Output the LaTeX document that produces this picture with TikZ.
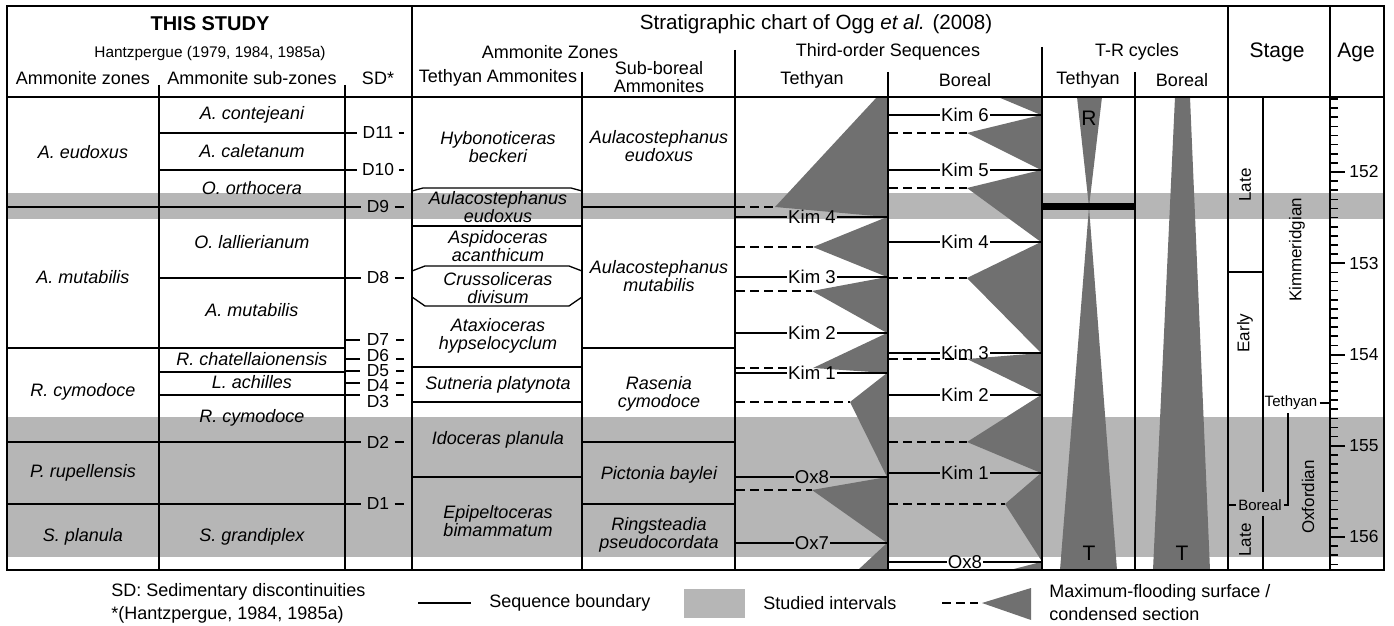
\documentclass[tikz,border=0pt]{standalone}
\usepackage{fontspec}
\setmainfont{Liberation Sans}
\usetikzlibrary{positioning,calc}

\definecolor{bandgrey}{RGB}{182,182,182}
\definecolor{mfsgrey}{RGB}{112,112,112}

\begin{document}
\begin{tikzpicture}[x=0.5pt,y=-0.5pt,
    zone/.style={font=\fontsize{9}{9.2}\selectfont\itshape, align=center, inner sep=0pt},
    head/.style={font=\fontsize{9}{9.2}\selectfont, align=center, inner sep=0pt},
    sdmark/.style={font=\fontsize{8.7}{8.5}\selectfont, inner xsep=2.5pt, inner ysep=0pt},
    seqmark/.style={font=\fontsize{9.3}{9}\selectfont, inner xsep=0.5pt, inner ysep=0pt},
    stagemark/.style={font=\fontsize{8.5}{8.5}\selectfont, rotate=90, inner sep=0pt},
    agemark/.style={font=\fontsize{8.7}{8.7}\selectfont, anchor=west, inner sep=0pt},
    keytext/.style={font=\fontsize{9}{11.5}\selectfont, anchor=west, align=left, inner sep=0pt},
    colline/.style={line width=1pt},
    zoneline/.style={line width=0.65pt},
    seqbound/.style={line width=1pt},
    mfsline/.style={line width=0.7pt, dash pattern=on 4.5pt off 2.5pt},
    mfs/.style={fill=mfsgrey}
]
\useasboundingbox (0,0) rectangle (1394,626);

% studied intervals
\fill[bandgrey] (7,193) rectangle (1384,219);
\fill[bandgrey] (7,417) rectangle (1384,557);

% wedges, Tethyan third-order sequences
\fill[mfs] (877,97) -- (887,97) -- (887,217) -- (775,207) -- cycle;
\fill[mfs] (887,217) -- (813,247) -- (887,277) -- cycle;
\fill[mfs] (887,277) -- (812,291) -- (887,333) -- cycle;
\fill[mfs] (887,333) -- (813,368) -- (887,373) -- cycle;
\fill[mfs] (887,373) -- (850,402) -- (887,477) -- cycle;
\fill[mfs] (887,477) -- (812,490) -- (887,543) -- cycle;
\fill[mfs] (887,543) -- (858,570) -- (887,570) -- cycle;
% wedges, Boreal third-order sequences
\fill[mfs] (998,97) -- (1041,97) -- (1041,115) -- cycle;
\fill[mfs] (1041,115) -- (967,133) -- (1041,170) -- cycle;
\fill[mfs] (1041,170) -- (967,188) -- (1041,242) -- cycle;
\fill[mfs] (1041,242) -- (967,278) -- (1041,353) -- cycle;
\fill[mfs] (1041,353) -- (967,359) -- (1041,395) -- cycle;
\fill[mfs] (1041,395) -- (967,442) -- (1041,473) -- cycle;
\fill[mfs] (1041,473) -- (1005,504) -- (1041,560) -- cycle;
\fill[mfs] (1041,562) -- (1010,570) -- (1041,570) -- cycle;
% T-R cycles
\fill[mfs] (1077,97) -- (1102,97) -- (1089,207) -- cycle;
\fill[mfs] (1089,207) -- (1117,570) -- (1060,570) -- cycle;
\fill[mfs] (1175,97) -- (1190,97) -- (1210,570) -- (1153,570) -- cycle;

% frame and columns
\draw[colline] (7,97) -- (1384,97);
\foreach \x/\ytop in {159/85, 345/85, 412/6, 582/72, 735/50, 888/72, 1042/47, 1135/72, 1228/6, 1330/6}
    \draw[colline] (\x,\ytop) -- (\x,570);
\draw[line width=1.4pt] (7,6) rectangle (1384,570);

% this study: zones, sub-zones, discontinuities
\foreach \y in {207,348,442,504}
    \draw[zoneline] (7,\y) -- (159,\y);
\foreach \y in {133,170,207,278,348,372,395,442,504}
    \draw[zoneline] (159,\y) -- (345,\y);
\foreach \y/\n/\t in {133/d11/D11, 170/d10/D10, 207/d9/D9, 278/d8/D8, 442/d2/D2, 504/d1/D1} {
    \node[sdmark] (\n) at (378,\y) {\t};
    \draw[zoneline] (345,\y) -- (\n.west) (\n.east) -- (404,\y);
}
\foreach \yl/\yt/\n/\t in {340/340/d7/D7, 356/359/d6/D6, 371/371/d5/D5, 386/383/d4/D4, 402/395/d3/D3} {
    \node[sdmark] (\n) at (378,\yl) {\t};
    \draw[zoneline] (346,\yt) -- (360,\yt) (396,\yt) -- (404,\yt);
}

% Ogg et al.: ammonite zones
\draw[zoneline] (412,191) -- (423,188) -- (571,188) -- (582,191);
\draw[zoneline] (412,226) -- (582,226);
\draw[zoneline] (412,271) -- (425,266) -- (569,266) -- (582,271);
\draw[zoneline] (412,297) -- (425,306) -- (569,306) -- (582,297);
\foreach \y in {367,402,477}
    \draw[zoneline] (412,\y) -- (582,\y);
\foreach \y in {207,348,442,504}
    \draw[zoneline] (582,\y) -- (735,\y);

% sequence boundaries and flooding surfaces
\foreach \y/\n/\t in {217/tk4/Kim 4, 277/tk3/Kim 3, 333/tk2/Kim 2, 373/tk1/Kim 1, 477/tox8/Ox8, 543/tox7/Ox7} {
    \node[seqmark] (\n) at (812,\y) {\t};
    \draw[seqbound] (736,\y) -- (\n.west) (\n.east) -- (887,\y);
}
\foreach \y/\n/\t in {115/bk6/Kim 6, 170/bk5/Kim 5, 242/bk4/Kim 4, 353/bk3/Kim 3, 395/bk2/Kim 2, 473/bk1/Kim 1, 562/box8/Ox8} {
    \node[seqmark] (\n) at (965,\y) {\t};
    \draw[seqbound] (889,\y) -- (\n.west) (\n.east) -- (1041,\y);
}
\foreach \y/\x in {207/775, 247/813, 291/812, 368/789, 402/850, 490/812}
    \draw[mfsline] (736,\y) -- (\x,\y);
\foreach \y/\x in {133/967, 188/967, 278/967, 359/967, 442/967, 504/1005}
    \draw[mfsline] (889,\y) -- (\x,\y);

% T-R cycles
\draw[line width=3.5pt] (1042,207) -- (1135,207);
\node[font=\fontsize{10.5}{10.5}\selectfont] (regr) at (1089,118) {R};
\node[font=\fontsize{10.5}{10.5}\selectfont] (transt) at (1089,553) {T};
\node[font=\fontsize{10.5}{10.5}\selectfont] (transb) at (1182,553) {T};

% stages
\draw[colline] (1263,97) -- (1263,492) (1263,516) -- (1263,570);
\draw[zoneline] (1228,272) -- (1263,272);
\node[stagemark] (latek) at (1245,185) {Late};
\node[stagemark] (earlyk) at (1245,333) {Early};
\node[stagemark] (lateo) at (1245,540) {Late};
\node[stagemark] (kimm) at (1297,250) {Kimmeridgian};
\node[stagemark] (oxf) at (1308,497) {Oxfordian};
\node[font=\fontsize{7.5}{7.5}\selectfont, inner xsep=1pt, inner ysep=0pt] (teth) at (1291,403) {Tethyan};
\node[font=\fontsize{7.5}{7.5}\selectfont, inner xsep=1pt, inner ysep=0pt] (bor) at (1260,505) {Boreal};
\draw[zoneline] (teth.east) -- (1330,403);
\draw[zoneline] (1288,413) -- (1288,505) -- (bor.east);
\draw[zoneline] (1228,505) -- (bor.west);

% age scale
\foreach \i in {-8,...,43}
    \draw[line width=0.8pt] (1331,{172+9.125*\i}) -- ++(7,0);
\foreach \a [count=\k from 0] in {152,...,156} {
    \draw[line width=1pt] (1331,{172+91.25*\k}) -- ++(14,0);
    \node[agemark] (age\a) at (1349,{172+91.25*\k}) {\a};
}

% header
\node[font=\fontsize{10}{10}\selectfont\bfseries] (study) at (210,24) {THIS STUDY};
\node[font=\fontsize{7.7}{7.7}\selectfont] (hantz) at (210,54) {Hantzpergue (1979, 1984, 1985a)};
\node[head] (hzone) at (83,78) {Ammonite zones};
\node[head] (hsub) at (252,78) {Ammonite sub-zones};
\node[head] (hsd) at (378,78) {SD*};
\node[font=\fontsize{10.3}{10.3}\selectfont] (ogg) at (816,24) {Stratigraphic chart of Ogg \textit{et al.} (2008)};
\node[head] (hamm) at (550,52) {Ammonite Zones};
\node[head] (hseq) at (888,52) {Third-order Sequences};
\node[head] (htr) at (1137,52) {T-R cycles};
\node[font=\fontsize{10.5}{10.5}\selectfont] (hstage) at (1277,52) {Stage};
\node[font=\fontsize{10.5}{10.5}\selectfont] (hage) at (1356,52) {Age};
\node[head] (htamm) at (498,78) {Tethyan Ammonites};
\node[head] (hbamm) at (659,77) {Sub-boreal\\Ammonites};
\node[head] (htseq) at (812,80) {Tethyan};
\node[head] (hbseq) at (965,80) {Boreal};
\node[head] (httr) at (1088,80) {Tethyan};
\node[head] (hbtr) at (1182,80) {Boreal};

% zone names
\foreach \y/\n/\t in {152/az1/A. eudoxus, 277/az2/A. mutabilis, 392/az3/R. cymodoce, 473/az4/P. rupellensis, 537/az5/S. planula}
    \node[zone] (\n) at (83,\y) {\t};
\foreach \y/\n/\t in {115/sz1/A. contejeani, 151/sz2/A. caletanum, 188/sz3/O. orthocera, 242/sz4/O. lallierianum, 310/sz5/A. mutabilis, 359/sz6/R. chatellaionensis, 382/sz7/L. achilles, 418/sz8/R. cymodoce, 537/sz9/S. grandiplex}
    \node[zone] (\n) at (252,\y) {\t};
\foreach \y/\n/\t in {147/tz1/Hybonoticeras\\beckeri, 207/tz2/Aulacostephanus\\eudoxus, 246/tz3/Aspidoceras\\acanthicum, 288/tz4/Crussoliceras\\divisum, 336/tz5/Ataxioceras\\hypselocyclum, 385/tz6/Sutneria platynota, 440/tz7/Idoceras planula, 521/tz8/Epipeltoceras\\bimammatum}
    \node[zone] (\n) at (498,\y) {\t};
\foreach \y/\n/\t in {146/bz1/Aulacostephanus\\eudoxus, 276/bz2/Aulacostephanus\\mutabilis, 394/bz3/Rasenia\\cymodoce, 475/bz4/Pictonia baylei, 535/bz5/Ringsteadia\\pseudocordata}
    \node[zone] (\n) at (659,\y) {\t};

% legend
\node[keytext] (keysd) at (111,603) {SD: Sedimentary discontinuities\\*(Hantzpergue, 1984, 1985a)};
\coordinate (sbstart) at (418,603);
\draw[line width=1.1pt] (sbstart) -- ++(53,0) coordinate (sbend);
\node[keytext, right=9pt of sbend] (keysb) {Sequence boundary};
\fill[bandgrey] (684,589) rectangle (745,618);
\node[keytext] (keysi) at (763,603) {Studied intervals};
\draw[mfsline] (942,603) -- (978,603);
\fill[mfs] (982,603) -- (1031,588) -- (1031,620) -- cycle;
\node[keytext] (keymfs) at (1049,603) {Maximum-flooding surface /\\condensed section};
\end{tikzpicture}
\end{document}
